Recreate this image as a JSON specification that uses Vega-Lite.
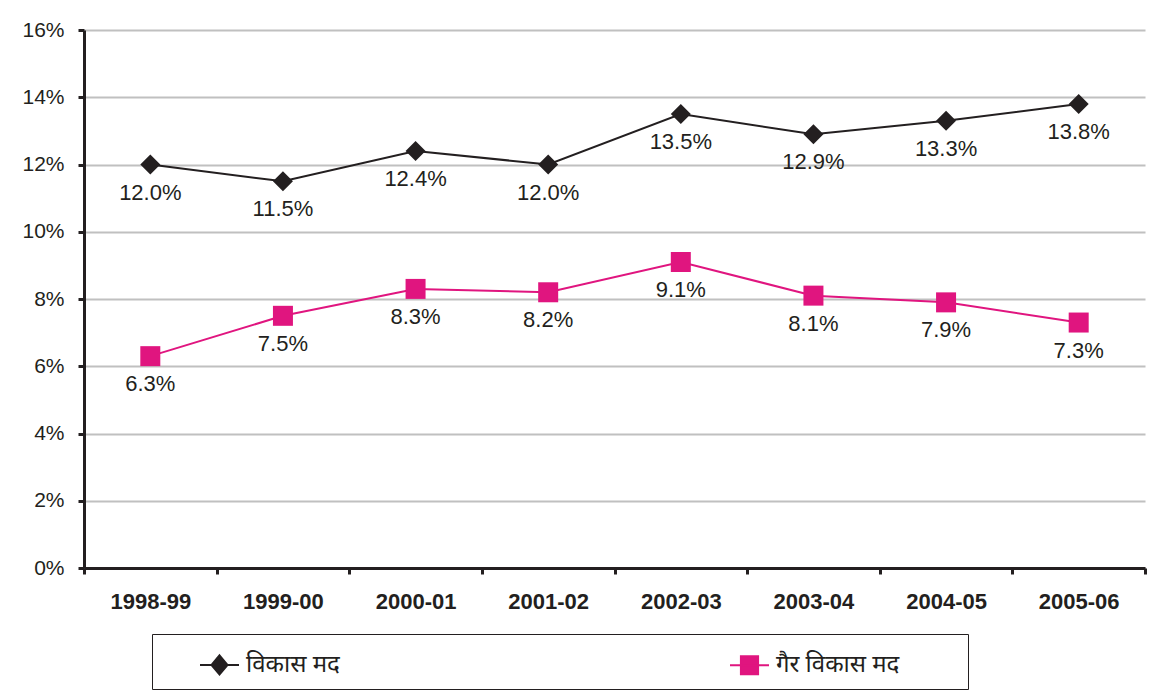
{
  "$schema": "https://vega.github.io/schema/vega-lite/v6.json",
  "width": 1061,
  "height": 538,
  "autosize": {"type": "none"},
  "padding": {"left": 84, "top": 30, "right": 4, "bottom": 130},
  "background": "white",
  "config": {"view": {"stroke": null}, "font": "Liberation Sans"},
  "data": {
    "values": [
      {"year": "1998-99", "series": "विकास मद", "value": 0.120},
      {"year": "1999-00", "series": "विकास मद", "value": 0.115},
      {"year": "2000-01", "series": "विकास मद", "value": 0.124},
      {"year": "2001-02", "series": "विकास मद", "value": 0.120},
      {"year": "2002-03", "series": "विकास मद", "value": 0.135},
      {"year": "2003-04", "series": "विकास मद", "value": 0.129},
      {"year": "2004-05", "series": "विकास मद", "value": 0.133},
      {"year": "2005-06", "series": "विकास मद", "value": 0.138},
      {"year": "1998-99", "series": "गैर विकास मद", "value": 0.063},
      {"year": "1999-00", "series": "गैर विकास मद", "value": 0.075},
      {"year": "2000-01", "series": "गैर विकास मद", "value": 0.083},
      {"year": "2001-02", "series": "गैर विकास मद", "value": 0.082},
      {"year": "2002-03", "series": "गैर विकास मद", "value": 0.091},
      {"year": "2003-04", "series": "गैर विकास मद", "value": 0.081},
      {"year": "2004-05", "series": "गैर विकास मद", "value": 0.079},
      {"year": "2005-06", "series": "गैर विकास मद", "value": 0.073}
    ]
  },
  "encoding": {
    "x": {
      "field": "year", "type": "nominal", "sort": null,
      "scale": {"paddingInner": 0, "paddingOuter": 0},
      "axis": {
        "title": null, "labelAngle": 0, "labelFontSize": 22, "labelFontWeight": "bold",
        "labelColor": "#231f20", "domainColor": "#231f20", "domainWidth": 3,
        "tickColor": "#231f20", "tickWidth": 3, "tickSize": 6, "tickBand": "extent",
        "labelPadding": 17, "grid": false
      }
    },
    "y": {
      "field": "value", "type": "quantitative",
      "scale": {"domain": [0, 0.16], "nice": false},
      "axis": {
        "title": null, "format": ".0%", "values": [0, 0.02, 0.04, 0.06, 0.08, 0.1, 0.12, 0.14, 0.16],
        "grid": true, "gridColor": "#c0c0c0", "gridWidth": 2,
        "domainColor": "#231f20", "domainWidth": 3, "tickColor": "#231f20", "tickWidth": 3,
        "tickSize": 6, "labelFontSize": 21, "labelColor": "#231f20", "labelPadding": 14
      }
    },
    "color": {
      "field": "series", "type": "nominal",
      "scale": {"domain": ["विकास मद", "गैर विकास मद"], "range": ["#231f20", "#e0157f"]},
      "legend": {
        "orient": "none", "legendX": 68, "legendY": 604, "direction": "horizontal",
        "title": "\u00a0", "titleOrient": "right", "titlePadding": 59, "titleFontSize": 11,
        "padding": 10, "strokeColor": "#231f20", "fillColor": "white",
        "symbolSize": 1521, "symbolStrokeWidth": 2, "symbolOffset": 37,
        "labelFontSize": 24, "labelOffset": 6, "labelColor": "#231f20", "labelFont": "Noto Sans",
        "labelLimit": 0,
        "columnPadding": 352,
        "encode": {
          "symbols": {
            "update": {
              "shape": {"signal": "datum.index === 0 ? 'M-1,0L1,0M0,-0.49L0.41,0L0,0.49L-0.41,0Z' : 'M-1,0L1,0M-0.44,-0.46L0.44,-0.46L0.44,0.46L-0.44,0.46Z'"},
              "fill": {"signal": "datum.index === 0 ? '#231f20' : '#e0157f'"},
              "stroke": {"signal": "datum.index === 0 ? '#231f20' : '#e0157f'"},
              "opacity": {"value": 1}
            }
          }
        }
      }
    }
  },
  "layer": [
    {"mark": {"type": "line", "strokeWidth": 2}},
    {
      "transform": [{"filter": "datum.series === 'विकास मद'"}],
      "mark": {"type": "point", "filled": true, "opacity": 1, "size": 400, "shape": "diamond"}
    },
    {
      "transform": [{"filter": "datum.series === 'गैर विकास मद'"}],
      "mark": {"type": "point", "filled": true, "opacity": 1, "size": 400, "shape": "square"}
    },
    {
      "mark": {"type": "text", "dy": 28, "fontSize": 22, "color": "#231f20", "baseline": "middle"},
      "encoding": {"text": {"field": "value", "type": "quantitative", "format": ".1%"}, "color": {"value": "#231f20"}}
    }
  ]
}
